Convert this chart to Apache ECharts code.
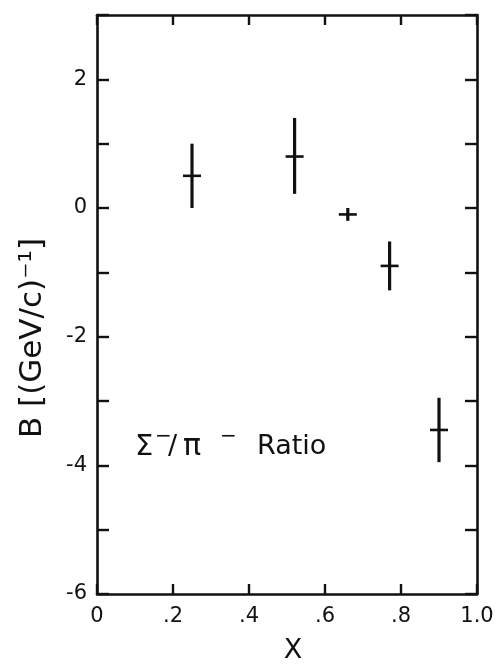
<!DOCTYPE html>
<html>
<head>
<meta charset="utf-8">
<script src="https://cdn.jsdelivr.net/npm/echarts@6/dist/echarts.min.js"></script>
<style>
  html, body { margin: 0; padding: 0; background: #fff; }
  #chart { width: 500px; height: 666px; }
</style>
</head>
<body>
<div id="chart"></div>
<script>
// Slope parameter B of the Sigma-/pi- ratio versus x
const xValues   = [0.25, 0.52, 0.66, 0.77, 0.90];
const bValues   = [0.5, 0.8, -0.1, -0.9, -3.45];
const errLow    = [0.5, 0.58, 0.1, 0.38, 0.5];
const errHigh   = [0.5, 0.6, 0.1, 0.38, 0.5];

const xTickLabels = ['0', '.2', '.4', '.6', '.8', '1.0'];
const yTickLabels = { '2': '2', '0': '0', '-2': '-2', '-4': '-4', '-6': '-6' };

const FONT = 'DejaVu Sans';
const INK = '#111';

const points = xValues.map((x, i) => [x, bValues[i], bValues[i] - errLow[i], bValues[i] + errHigh[i]]);

const chart = echarts.init(document.getElementById('chart'), null, { renderer: 'canvas' });

const frameLine = { show: true, onZero: false, lineStyle: { color: INK, width: 2.6 } };
const inTick = (len) => ({ show: true, inside: true, length: len, lineStyle: { color: INK, width: 2.4 } });

chart.setOption({
  animation: false,
  backgroundColor: '#fff',
  grid: { left: 97, right: 23, top: 15, bottom: 72, outerBoundsMode: 'none', containLabel: false },
  xAxis: [
    {
      type: 'value', min: 0, max: 1, interval: 0.2, position: 'bottom',
      axisLine: frameLine, axisTick: inTick(10), splitLine: { show: false },
      axisLabel: {
        margin: 12, fontFamily: FONT, fontSize: 21, color: INK,
        formatter: (v) => xTickLabels[Math.round(v / 0.2)]
      },
      name: 'X', nameLocation: 'middle', nameGap: 43,
      nameTextStyle: { fontFamily: FONT, fontSize: 27, color: INK, padding: [0, 0, 0, 12] }
    },
    {
      type: 'value', min: 0, max: 1, interval: 0.2, position: 'top',
      axisLine: frameLine, axisTick: inTick(10), axisLabel: { show: false }, splitLine: { show: false }
    }
  ],
  yAxis: [
    {
      type: 'value', min: -6, max: 3, interval: 1, position: 'left',
      axisLine: frameLine, axisTick: inTick(12), splitLine: { show: false },
      axisLabel: {
        margin: 10, fontFamily: FONT, fontSize: 21, color: INK,
        formatter: (v) => yTickLabels[String(v)] || ''
      }
    },
    {
      type: 'value', min: -6, max: 3, interval: 1, position: 'right',
      axisLine: frameLine, axisTick: inTick(12), axisLabel: { show: false }, splitLine: { show: false }
    }
  ],
  graphic: [
    {
      type: 'text', x: 33, y: 338, rotation: Math.PI / 2,
      style: {
        text: 'B [(GeV/c)\u207B\u00B9]', fontFamily: FONT, fontSize: 31, fill: INK,
        align: 'center', verticalAlign: 'middle'
      }
    },
    {
      type: 'text', x: 135, y: 447,
      style: {
        text: '{big|\u03A3}{sup|\u2212}{sl|/}{pi|\u03C0}{sup2|\u2212}{s|Ratio}',
        fontFamily: FONT, fontSize: 27, fill: INK, verticalAlign: 'middle',
        rich: {
          big: { fontFamily: FONT, fontSize: 29, color: INK, width: 20 },
          sup: { fontFamily: FONT, fontSize: 20, color: INK, width: 13, padding: [0, 0, 20, 0] },
          sl: { fontFamily: FONT, fontSize: 27, color: INK, width: 15 },
          pi: { fontFamily: FONT, fontSize: 30, color: INK, width: 37 },
          sup2: { fontFamily: FONT, fontSize: 20, color: INK, width: 37, padding: [0, 0, 20, 0] },
          s: { fontFamily: FONT, fontSize: 27, color: INK }
        }
      }
    }
  ],
  series: [
    {
      type: 'custom',
      xAxisIndex: 0, yAxisIndex: 0,
      data: points,
      renderItem: function (params, api) {
        const x = api.value(0);
        const c = api.coord([x, api.value(1)]);
        const lo = api.coord([x, api.value(2)]);
        const hi = api.coord([x, api.value(3)]);
        const half = 9;
        return {
          type: 'group',
          children: [
            {
              type: 'line',
              shape: { x1: c[0], y1: hi[1], x2: c[0], y2: lo[1] },
              style: { stroke: INK, lineWidth: 3.2 }
            },
            {
              type: 'line',
              shape: { x1: c[0] - half, y1: c[1], x2: c[0] + half, y2: c[1] },
              style: { stroke: INK, lineWidth: 2.6 }
            }
          ]
        };
      }
    }
  ]
});
</script>
</body>
</html>
